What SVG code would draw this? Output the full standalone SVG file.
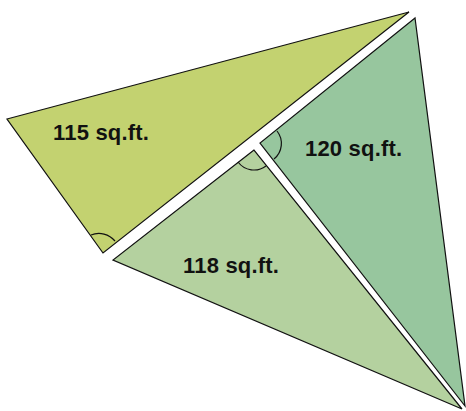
<svg xmlns="http://www.w3.org/2000/svg" width="466" height="411" viewBox="0 0 466 411">
<style>
.tri{stroke:#111;stroke-width:1.2;stroke-linejoin:miter}
.arc{fill:none;stroke:#111;stroke-width:1.2}
.lbl{font-family:"Liberation Sans",Arial,sans-serif;font-weight:bold;font-size:22px;fill:#111;letter-spacing:0.2px}
</style>
<rect width="466" height="411" fill="#fff"/>
<g id="room-115">
<polygon class="tri" fill="#c3d270" points="7,119 409,12 103,253"/>
<path class="arc" d="M91,235 A21 21 0 0 1 115,241"/>
<text class="lbl" x="53" y="140">115 sq.ft.</text>
</g>
<g id="room-120">
<polygon class="tri" fill="#97c69e" points="415,18 260,143 465,406"/>
<path class="arc" d="M277,131 A20 20 0 0 1 274,159"/>
<text class="lbl" x="305" y="156">120 sq.ft.</text>
</g>
<g id="room-118">
<polygon class="tri" fill="#b4d19f" points="254,150 113,260 462,409"/>
<path class="arc" d="M238,162 A20 20 0 0 0 266,166"/>
<text class="lbl" x="183" y="273">118 sq.ft.</text>
</g>
<g id="connectors"/>
</svg>
